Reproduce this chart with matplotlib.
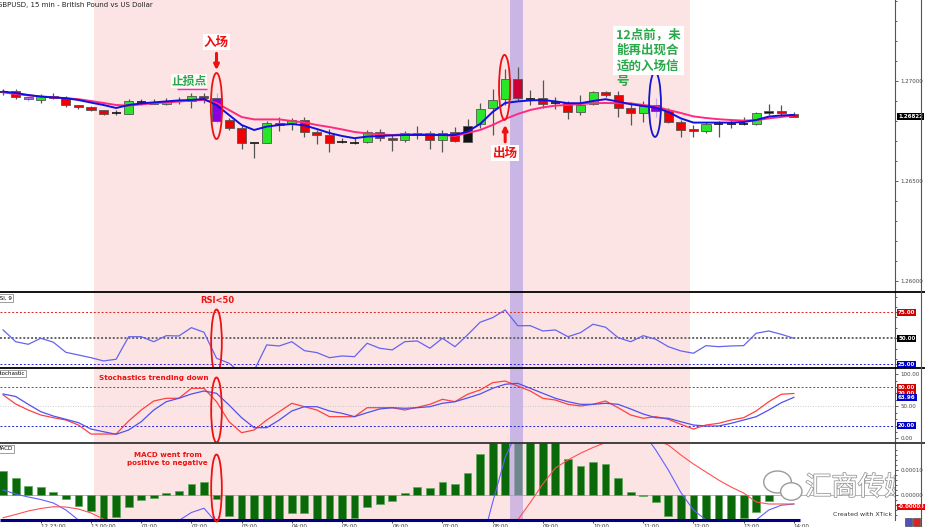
#GBPUSD 15 min chart with RSI, Stochastic and MACD panels (XTick style)

import numpy as np
import matplotlib.pyplot as plt
import matplotlib.patheffects as pe
from matplotlib.patches import Ellipse, Rectangle
from matplotlib.lines import Line2D

plt.rcParams['font.family'] = ['DejaVu Sans', 'Noto Sans CJK SC']
CJK = ['Noto Sans CJK SC', 'DejaVu Sans']

#Candle index: 0 = 13 00:00, one step = 15 minutes
idx = np.arange(-7, 57)

opens = [1.26945, 1.26950, 1.26920, 1.26907, 1.26927, 1.26914, 1.26880, 1.26872, 1.26855, 1.26840,
         1.26837, 1.26894, 1.26895, 1.26884, 1.26902, 1.26902, 1.26925, 1.26914, 1.26804, 1.26764,
         1.26689, 1.26689, 1.26790, 1.26784, 1.26804, 1.26744, 1.26730, 1.26694, 1.26692, 1.26694,
         1.26744, 1.26717, 1.26704, 1.26737, 1.26740, 1.26704, 1.26743, 1.26697, 1.26784, 1.26864,
         1.26909, 1.27009, 1.26910, 1.26914, 1.26889, 1.26889, 1.26847, 1.26884, 1.26944, 1.26930,
         1.26865, 1.26839, 1.26879, 1.26850, 1.26797, 1.26760, 1.26750, 1.26785, 1.26785, 1.26785,
         1.26785, 1.26839, 1.26850, 1.26835]
highs = [1.26960, 1.26959, 1.26920, 1.26934, 1.26940, 1.26924, 1.26880, 1.26875, 1.26855, 1.26855,
         1.26909, 1.26910, 1.26909, 1.26917, 1.26920, 1.26939, 1.26942, 1.26939, 1.26815, 1.26780,
         1.26692, 1.26802, 1.26819, 1.26814, 1.26819, 1.26755, 1.26760, 1.26714, 1.26717, 1.26755,
         1.26760, 1.26730, 1.26750, 1.26775, 1.26750, 1.26755, 1.26769, 1.26809, 1.26889, 1.26959,
         1.27059, 1.27069, 1.26955, 1.27005, 1.26922, 1.26900, 1.26930, 1.26950, 1.26950, 1.26950,
         1.26894, 1.26900, 1.26914, 1.26867, 1.26805, 1.26780, 1.26797, 1.26800, 1.26805, 1.26822,
         1.26847, 1.26885, 1.26880, 1.26847]
lows = [1.26930, 1.26910, 1.26902, 1.26892, 1.26910, 1.26870, 1.26860, 1.26850, 1.26830, 1.26830,
        1.26835, 1.26880, 1.26885, 1.26879, 1.26884, 1.26864, 1.26889, 1.26792, 1.26755, 1.26659,
        1.26614, 1.26689, 1.26750, 1.26755, 1.26722, 1.26687, 1.26647, 1.26689, 1.26684, 1.26689,
        1.26700, 1.26650, 1.26697, 1.26710, 1.26660, 1.26647, 1.26695, 1.26695, 1.26764, 1.26730,
        1.26880, 1.26905, 1.26880, 1.26864, 1.26860, 1.26810, 1.26830, 1.26880, 1.26920, 1.26819,
        1.26779, 1.26797, 1.26822, 1.26789, 1.26719, 1.26722, 1.26739, 1.26722, 1.26764, 1.26780,
        1.26780, 1.26830, 1.26830, 1.26822]
closes = [1.26945, 1.26920, 1.26912, 1.26925, 1.26914, 1.26880, 1.26869, 1.26855, 1.26835, 1.26840,
          1.26900, 1.26894, 1.26885, 1.26900, 1.26902, 1.26925, 1.26914, 1.26802, 1.26764, 1.26689,
          1.26689, 1.26789, 1.26780, 1.26804, 1.26747, 1.26729, 1.26690, 1.26694, 1.26692, 1.26744,
          1.26714, 1.26705, 1.26740, 1.26737, 1.26704, 1.26742, 1.26698, 1.26777, 1.26859, 1.26905,
          1.27009, 1.26914, 1.26910, 1.26885, 1.26889, 1.26847, 1.26880, 1.26944, 1.26930, 1.26865,
          1.26839, 1.26877, 1.26849, 1.26795, 1.26755, 1.26750, 1.26785, 1.26785, 1.26785, 1.26785,
          1.26839, 1.26850, 1.26839, 1.26822]

#Candles painted in a special colour on the original chart
special = {-5: '#a070f0', 10: '#8a00e0', 45: '#8a00e0', 30: '#111111', 54: '#111111', 34: '#cc0033'}

#Fast (blue) and slow (pink) moving averages
ma_fast = [1.26947, 1.26940, 1.26930, 1.26922, 1.26918, 1.26914, 1.26905, 1.26892, 1.26880, 1.26865,
           1.26880, 1.26888, 1.26893, 1.26898, 1.26903, 1.26905, 1.26910, 1.26880, 1.26830, 1.26780,
           1.26755, 1.26772, 1.26780, 1.26785, 1.26778, 1.26760, 1.26740, 1.26725, 1.26714, 1.26722,
           1.26725, 1.26728, 1.26730, 1.26730, 1.26730, 1.26730, 1.26730, 1.26747, 1.26785, 1.26845,
           1.26890, 1.26898, 1.26903, 1.26905, 1.26898, 1.26889, 1.26889, 1.26900, 1.26909, 1.26897,
           1.26884, 1.26875, 1.26867, 1.26845, 1.26813, 1.26792, 1.26792, 1.26792, 1.26792, 1.26795,
           1.26805, 1.26822, 1.26828, 1.26830]
ma_slow = [1.26943, 1.26935, 1.26928, 1.26923, 1.26918, 1.26914, 1.26909, 1.26900, 1.26890, 1.26880,
           1.26877, 1.26883, 1.26889, 1.26893, 1.26897, 1.26903, 1.26905, 1.26890, 1.26855, 1.26820,
           1.26808, 1.26808, 1.26808, 1.26800, 1.26793, 1.26780, 1.26770, 1.26758, 1.26745, 1.26738,
           1.26733, 1.26730, 1.26733, 1.26734, 1.26733, 1.26730, 1.26725, 1.26740, 1.26755, 1.26780,
           1.26810, 1.26835, 1.26855, 1.26868, 1.26877, 1.26880, 1.26885, 1.26889, 1.26890, 1.26889,
           1.26888, 1.26880, 1.26873, 1.26855, 1.26840, 1.26823, 1.26815, 1.26809, 1.26805, 1.26802,
           1.26804, 1.26813, 1.26820, 1.26828]

#RSI(9)
rsi = [58, 46.7, 44.2, 50, 46.2, 36.5, 33.9, 31.3, 28.2, 29.8,
       51.5, 51.5, 46.7, 52.5, 52.2, 60.2, 55.8, 30.8, 26, 16,
       19, 43.6, 42.6, 46.7, 38.1, 36.2, 31.3, 33, 32.3, 45.2,
       40.4, 38.8, 46.7, 47.4, 40.4, 50, 41.9, 53.2, 65.4, 69.8,
       77.2, 62.1, 62.1, 57, 58, 51.5, 55.4, 63.5, 60.6, 50.6,
       46.7, 52.5, 49, 41.9, 37.8, 35.6, 42.9, 41.9, 42.6, 42.9,
       54.8, 57, 53.8, 50]

#Stochastic main (red) and signal (blue)
stoch_k = [67.7, 53.6, 44.2, 36.4, 32.2, 28.6, 20.8, 6.7, 6.7, 6.7,
           27, 44.2, 58.3, 62.5, 62.5, 78.1, 78.1, 57.2, 25.9, 8.8,
           13, 28.6, 41.6, 54.7, 49.4, 44.2, 33.8, 33.8, 33.8, 47.8,
           47.8, 47.8, 44.2, 48.4, 53.1, 60.9, 57.2, 68.8, 75.5, 86.9,
           89.5, 81.7, 73.9, 62.5, 59.8, 53.1, 50.5, 53.1, 58.3, 47.8,
           36.4, 31.3, 33.8, 29.7, 21.9, 14.5, 20.8, 23.4, 28.6, 32.2,
           42.7, 57.2, 68.8, 70]
stoch_d = [69.2, 65.3, 53.1, 41.6, 34.8, 29.7, 24.4, 14.5, 10.3, 6.3,
           13, 25.9, 44.2, 57.2, 62.5, 69.2, 73.9, 70.3, 52, 32.2,
           16.6, 16.6, 28.6, 42.7, 49.4, 49.4, 42.7, 39.1, 33.8, 40,
           45.8, 47.8, 46.9, 47.8, 49.4, 54.7, 57.2, 63, 69.2, 78.1,
           84.4, 85.9, 78.1, 70.3, 62.5, 57.2, 53.1, 53.1, 54.7, 53.1,
           45.8, 38, 32.2, 31.3, 25.9, 20.8, 19.2, 19.2, 23.4, 28.6,
           33.8, 44.2, 55.6, 63.96]

#MACD histogram (candles -7 .. 54) and the two lines
hist_idx = np.arange(-7, 55)
macd_hist = [0.000096, 0.000067, 0.000037, 0.000031, 0.000013, -0.000017, -0.000043, -0.000064, -0.000105, -0.000087,
             -0.000049, -0.00002, -0.000013, 0.000007, 0.000017, 0.000043, 0.000051, -0.000017, -0.000084, -0.00012,
             -0.00014, -0.00013, -0.00011, -0.000071, -0.000071, -0.00011, -0.00012, -0.00011, -0.000091, -0.000049,
             -0.000037, -0.000024, 0.000009, 0.000033, 0.000027, 0.000053, 0.000044, 0.000087, 0.000163, 0.00024,
             0.0003, 0.00033, 0.00031, 0.00026, 0.00022, 0.000143, 0.000117, 0.000131, 0.000123, 0.000069,
             0.000013, -0.000002, -0.000027, -0.000084, -0.00011, -0.00012, -0.00012, -0.00011, -0.00011, -0.000093,
             -0.000067, -0.000024]
macd_line = [0.00002, 0.000004, -0.000008, -0.000018, -0.000032, -0.00006, -0.0001, -0.00014, -0.00017, -0.00018,
             -0.00017, -0.00016, -0.00014, -0.00012, -0.000102, -0.00007, -0.000053, -0.00011, -0.00016, -0.0002,
             -0.00025, -0.00028, -0.0003, -0.00032, -0.00033, -0.00034, -0.00035, -0.00036, -0.00036, -0.00036,
             -0.00036, -0.00036, -0.00035, -0.00035, -0.00035, -0.00035, -0.00034, -0.00032, -0.00022, -0.00003,
             0.00015, 0.00026, 0.00036, 0.00042, 0.00045, 0.00046, 0.00045, 0.00043, 0.0004, 0.00036,
             0.00031, 0.00025, 0.00018, 0.0001, 0.00001, -0.00006, -0.0001, -0.00012, -0.00013, -0.00012,
             -0.0001, -0.00006, -0.000041, -0.000036]
macd_signal = [-0.000091, -0.000078, -0.000064, -0.000054, -0.000047, -0.000048, -0.000056, -0.000072, -0.000096, -0.00012,
               -0.00014, -0.00015, -0.00016, -0.00016, -0.00016, -0.00016, -0.00016, -0.00017, -0.00018, -0.00019,
               -0.0002, -0.00021, -0.00022, -0.00023, -0.00024, -0.00025, -0.00026, -0.00027, -0.00027, -0.00028,
               -0.00028, -0.00028, -0.00028, -0.00028, -0.00027, -0.00026, -0.00025, -0.00024, -0.00021, -0.00018,
               -0.00014, -0.0001, -0.00003, 0.000044, 0.000108, 0.00014, 0.000167, 0.00019, 0.00021, 0.00023,
               0.00024, 0.00023, 0.00022, 0.0002, 0.00016, 0.000124, 0.000092, 0.00006, 0.000032, 0.000008,
               -0.000028, -0.000036, -0.000036, -0.000036]

#Time axis labels (every 4 candles)
time_ticks = np.arange(-4, 57, 4)
time_labels = ['12 23:00', '13 00:00', '01:00', '02:00', '03:00', '04:00', '05:00', '06:00',
               '07:00', '08:00', '09:00', '10:00', '11:00', '12:00', '13:00', '14:00']

#Shaded session and highlighted exit column (in candle units)
session = (0.25, 47.75)
exit_band = (33.35, 34.4)


W, H = 925, 527
fig = plt.figure(figsize=(W / 100, H / 100), dpi=100)


def panel(top, bottom):
    ax = fig.add_axes([0, (H - bottom) / H, 895 / W, (bottom - top) / H])
    ax.set_xlim(-7.25, 64.06)
    ax.axvspan(*session, color='#fde4e4', lw=0, zorder=0)
    for s in ['left', 'bottom', 'top']:
        ax.spines[s].set_visible(False)
    ax.spines['right'].set_color('#555555')
    ax.spines['right'].set_linewidth(0.8)
    ax.set_xticks([])
    ax.yaxis.tick_right()
    ax.tick_params(axis='y', which='both', labelsize=4, length=2.5, pad=1.5,
                   direction='out', colors='#444444', width=0.6)
    ax.tick_params(axis='y', which='minor', length=1.5)
    return ax


def tag(ax, y, text, bg, fg='white'):
    ax.annotate(text, xy=(1, y), xycoords=ax.get_yaxis_transform(),
                xytext=(2.2, 0), textcoords='offset points', ha='left', va='center',
                fontsize=4, color=fg, fontweight='bold', annotation_clip=False,
                bbox=dict(boxstyle='square,pad=0.15', fc=bg, ec='none'))


def panel_name(ax, text):
    ax.text(-0.004, 0.955, text, transform=ax.transAxes, fontsize=4, va='top', ha='left',
            bbox=dict(boxstyle='square,pad=0.2', fc='white', ec='#777777', lw=0.5))


ax_p = panel(0, 292)
ax_r = panel(292, 368)
ax_s = panel(368, 443)
ax_m = panel(443, 520)


#---------------- price panel ----------------
ax_p.set_ylim(1.25945, 1.27405)
ax_p.axvspan(*exit_band, color='#c9b6e4', lw=0, zorder=1)

for i, oo, hh, ll, cc in zip(idx, opens, highs, lows, closes):
    col = special.get(i, '#28e628' if cc > oo else '#f00000')
    wick = '#c0a8f0' if i in (-5, 10, 45) else '#555555'
    ax_p.vlines(i, ll, hh, color=wick, lw=0.9, zorder=3)
    if abs(cc - oo) < 0.000005:
        ax_p.hlines(oo, i - 0.36, i + 0.36, color='#111111', lw=1.2, zorder=4)
    else:
        ax_p.bar(i, abs(cc - oo), bottom=min(oo, cc), width=0.72, color=col,
                 edgecolor='#555555', lw=0.6, zorder=4)

ax_p.plot(idx, ma_slow, color='#ff2a7f', lw=1.4, zorder=5)
ax_p.plot(idx, ma_fast, color='#1010e0', lw=1.4, zorder=5)

ax_p.set_yticks([1.26, 1.265, 1.27])
ax_p.set_yticklabels(['1.26000', '1.26500', '1.27000'])
ax_p.set_yticks(np.arange(1.260, 1.2745, 0.001), minor=True)
tag(ax_p, closes[-1], '%.5f' % closes[-1], '#000000')

ax_p.text(-0.003, 0.992, 'GBPUSD, 15 min - British Pound vs US Dollar', transform=ax_p.transAxes,
          fontsize=5, va='top', ha='left', color='#222222')

#entry markers
ax_p.text(10, 1.27195, '入场', family=CJK, fontsize=9, fontweight='bold', color='#ee1111',
          ha='center', va='center', bbox=dict(fc='white', ec='none', pad=1), zorder=8)
ax_p.annotate('', xy=(10, 1.27040), xytext=(10, 1.27152),
              arrowprops=dict(arrowstyle='-|>', color='#ee1111', lw=2.2, mutation_scale=7), zorder=8)
ax_p.add_patch(Ellipse((10, 1.26875), 0.9, 0.0033, fill=False, ec='#ee1111', lw=1.3, zorder=7))
ax_p.text(7.8, 1.27000, '止损点', family=CJK, fontsize=8.5, fontweight='bold', color='#2aa84a',
          ha='center', va='center', bbox=dict(fc='white', ec='none', pad=0.5, alpha=0.8), zorder=8)
ax_p.hlines(1.26958, 6.85, 9.25, color='#ff22cc', lw=1, zorder=8)

#exit markers
ax_p.add_patch(Ellipse((32.95, 1.26968), 0.88, 0.00325, fill=False, ec='#ee1111', lw=1.3, zorder=7))
ax_p.annotate('', xy=(33, 1.26795), xytext=(33, 1.26682),
              arrowprops=dict(arrowstyle='-|>', color='#ee1111', lw=2.2, mutation_scale=7), zorder=8)
ax_p.text(33, 1.26640, '出场', family=CJK, fontsize=9, fontweight='bold', color='#ee1111',
          ha='center', va='center', bbox=dict(fc='white', ec='none', pad=1), zorder=8)

#no new entry before 12:00
ax_p.text(41.85, 1.27262, '12点前，未\n能再出现合\n适的入场信', family=CJK, fontsize=9,
          fontweight='bold', color='#2aa84a', ha='left', va='top', linespacing=1.25,
          bbox=dict(fc='white', ec='none', pad=2), zorder=8)
ax_p.text(41.85, 1.27000, '号', family=CJK, fontsize=9, fontweight='bold', color='#2aa84a',
          ha='left', va='center', zorder=8)
ax_p.add_patch(Ellipse((44.94, 1.26883), 0.95, 0.00325, fill=False, ec='#1515d0', lw=1.3, zorder=7))


#---------------- RSI panel ----------------
ax_r.set_ylim(21.4, 94.5)
ax_r.axvspan(*exit_band, color='#c9b6e4', lw=0, zorder=1)
ax_r.axhline(75, color='#dd2222', ls=(0, (2, 2)), lw=0.7, zorder=2)
ax_r.axhline(50, color='#666666', ls=(0, (1, 1)), lw=1.4, zorder=2)
ax_r.axhline(25, color='#2222dd', ls=(0, (2, 2)), lw=0.7, zorder=2)
ax_r.plot(idx, rsi, color='#6464f0', lw=0.9, zorder=4)
ax_r.set_yticks([25, 50, 75])
ax_r.set_yticklabels([])
ax_r.set_yticks(np.arange(30, 95, 10), minor=True)
tag(ax_r, 75, '75.00', '#cc0000')
tag(ax_r, 50, '50.00', '#000000')
tag(ax_r, 25, '25.00', '#0000cc')
panel_name(ax_r, 'RSI, 9')
ax_r.text(10.1, 86.8, 'RSI<50', fontsize=6, fontweight='bold', color='#ee1111', ha='center', va='center')
ax_r.add_patch(Ellipse((10, 46.4), 0.85, 62.5, fill=False, ec='#ee1111', lw=1.3, zorder=7, clip_on=False))


#---------------- Stochastic panel ----------------
ax_s.set_ylim(-7.3, 109.8)
ax_s.axvspan(*exit_band, color='#c9b6e4', lw=0, zorder=1)
ax_s.axhline(80, color='#dd2222', ls=(0, (2, 2)), lw=0.7, zorder=2)
ax_s.axhline(50, color='#bbbbbb', ls=(0, (1, 2)), lw=0.6, zorder=2)
ax_s.axhline(20, color='#2222dd', ls=(0, (2, 2)), lw=0.7, zorder=2)
ax_s.plot(idx, stoch_k, color='#ff4040', lw=0.9, zorder=4)
ax_s.plot(idx, stoch_d, color='#5050f0', lw=0.9, zorder=4)
ax_s.set_yticks([0, 20, 50, 100])
ax_s.set_yticklabels(['0.00', '', '50.00', '100.00'])
ax_s.set_yticks(np.arange(10, 100, 10), minor=True)
tag(ax_s, 80, '80.00', '#cc0000')
tag(ax_s, stoch_k[-1], '%.2f' % stoch_k[-1], '#dd0000')
tag(ax_s, stoch_d[-1], '%.2f' % stoch_d[-1], '#0000cc')
tag(ax_s, 20, '20.00', '#0000cc')
panel_name(ax_s, 'Stochastic')
ax_s.text(5.0, 94.2, 'Stochastics trending down', fontsize=5.2, fontweight='bold', color='#ee1111',
          ha='center', va='center')
ax_s.add_patch(Ellipse((10, 44.2), 0.85, 101.6, fill=False, ec='#ee1111', lw=1.3, zorder=7, clip_on=False))


#---------------- MACD panel ----------------
ax_m.set_ylim(-0.0001, 0.000208)
ax_m.axhline(0, color='#aaaaaa', lw=0.6, zorder=2)
ax_m.bar(hist_idx, macd_hist, width=0.62, color='#0a6a0a', edgecolor='#5fa85f', lw=0.5, zorder=3)
ax_m.axvspan(*exit_band, color='#b49be0', alpha=0.6, lw=0, zorder=4)
ax_m.plot(idx, macd_line, color='#6060ff', lw=0.8, zorder=5)
ax_m.plot(idx, macd_signal, color='#ff5050', lw=0.8, zorder=5)
ax_m.hlines(-0.0001, -7.25, 56.5, color='#000080', lw=2.2, zorder=6, clip_on=False)
ax_m.set_yticks([0, 0.0001])
ax_m.set_yticklabels(['0.00000', '0.00010'])
ax_m.set_yticks(np.arange(-0.00008, 0.0002, 0.00002), minor=True)
tag(ax_m, -0.000048, '-0.00003', '#ee0000')
panel_name(ax_m, 'MACD')
ax_m.text(6.1, 0.000144, 'MACD went from\npositive to negative', fontsize=5.1, fontweight='bold',
          color='#ee1111', ha='center', va='center', linespacing=1.3)
ax_m.add_patch(Ellipse((10, 0.000028), 0.85, 0.000268, fill=False, ec='#ee1111', lw=1.3, zorder=7,
                       clip_on=False))

#watermark
ax_m.add_patch(Ellipse((54.7, 0.000052), 2.2, 0.000088, fill=True, fc='white', ec='#9a9a9a', lw=1, zorder=7))
ax_m.add_patch(Ellipse((55.8, 0.000014), 1.7, 0.00007, fill=True, fc='white', ec='#9a9a9a', lw=1, zorder=7))
ax_m.text(56.9, 0.00003, '汇商传媒', family=CJK, fontsize=19, color='white', ha='left', va='center',
          zorder=7, clip_on=True,
          path_effects=[pe.withStroke(linewidth=1.2, foreground='#9a9a9a')])
ax_m.text(59.1, -0.00008, 'Created with XTick', fontsize=4.5, color='#333333', ha='left', va='center',
          zorder=7)

#time axis
ax_m.set_xticks(time_ticks)
ax_m.set_xticklabels(time_labels)
ax_m.tick_params(axis='x', labelsize=4, length=2, pad=0.8, colors='#333333', width=0.6)
for lbl in ax_m.get_xticklabels():
    lbl.set_horizontalalignment('left')

#panel separators and frame
for ypx, col in [(292, '#000000'), (368, '#000000'), (443, '#333333')]:
    fig.add_artist(Line2D([0, 1], [1 - ypx / H] * 2, color=col, lw=1.3, transform=fig.transFigure))
fig.add_artist(Line2D([921 / W] * 2, [0, 1], color='#555555', lw=0.8, transform=fig.transFigure))
fig.add_artist(Rectangle((905 / W, 1 - 526 / H), 7 / W, 8 / H, transform=fig.transFigure,
                         fc='#5050c0', ec='#333333', lw=0.4))
fig.add_artist(Rectangle((913 / W, 1 - 526 / H), 7 / W, 8 / H, transform=fig.transFigure,
                         fc='#dd2222', ec='#333333', lw=0.4))

fig.savefig('out.png', dpi=100)
